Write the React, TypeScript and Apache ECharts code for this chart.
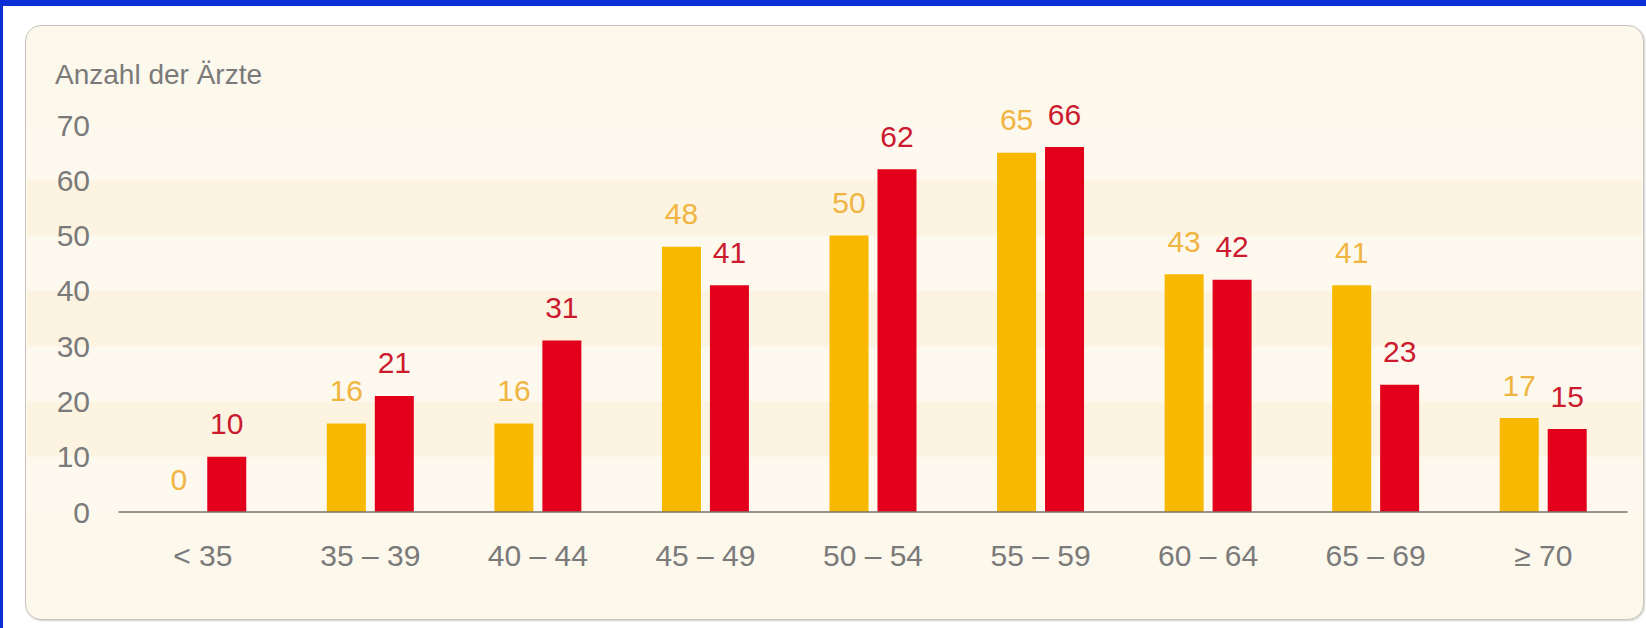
import React, { useEffect, useRef } from "react";
import * as echarts from "echarts";

const categories = ["< 35", "35 – 39", "40 – 44", "45 – 49", "50 – 54", "55 – 59", "60 – 64", "65 – 69", "≥ 70"];
const seriesYellow = [0, 16, 16, 48, 50, 65, 43, 41, 17];
const seriesRed = [10, 21, 31, 41, 62, 66, 42, 23, 15];
const yTitle = "Anzahl der Ärzte";

const FONT = '"Liberation Sans", Arial, sans-serif';

export default function App() {
  const ref = useRef<HTMLDivElement>(null);
  useEffect(() => {
    if (!ref.current) return;
    const chart = echarts.init(ref.current, null, { renderer: "svg" });
    chart.setOption({
      animation: false,
      backgroundColor: "transparent",
      textStyle: { fontFamily: FONT },
      grid: [
        { left: 119, right: 19, top: 125, bottom: 116 },
        { left: 27, right: 4, top: 125, bottom: 116 },
      ],
      graphic: [
        {
          type: "text",
          left: 55,
          top: 60,
          z: 10,
          style: { text: yTitle, font: `28px ${FONT}`, fill: "#7a7a7a" },
        },
      ],
      xAxis: [
        {
          type: "category",
          gridIndex: 0,
          data: categories,
          axisLine: { show: true, lineStyle: { color: "#77756f", width: 1.5 } },
          axisTick: { show: false },
          axisLabel: { color: "#7a7a7a", fontSize: 30, margin: 28, fontFamily: FONT },
          splitLine: { show: false },
          z: 5,
        },
        {
          type: "value",
          gridIndex: 1,
          show: false,
          min: 0,
          max: 1,
        },
      ],
      yAxis: [
        {
          type: "value",
          gridIndex: 0,
          min: 0,
          max: 70,
          interval: 10,
          axisLine: { show: false },
          axisTick: { show: false },
          axisLabel: { color: "#7a7a7a", fontSize: 30, margin: 29, fontFamily: FONT },
          splitLine: { show: false },
          splitArea: { show: false },
          z: 5,
        },
        {
          type: "value",
          gridIndex: 1,
          min: 0,
          max: 70,
          interval: 10,
          axisLine: { show: false },
          axisTick: { show: false },
          axisLabel: { show: false },
          splitLine: { show: false },
          splitArea: { show: true, areaStyle: { color: ["#fdf9ee", "#fcf3e1"] } },
          z: 0,
        },
      ],
      series: [
        {
          name: "Gruppe 1",
          type: "bar",
          xAxisIndex: 0,
          yAxisIndex: 0,
          data: seriesYellow,
          barWidth: 39,
          barGap: "23%",
          itemStyle: { color: "#f8b800" },
          label: {
            show: true,
            position: "top",
            distance: 18,
            color: "#f0b541",
            fontSize: 30,
            fontFamily: FONT,
          },
        },
        {
          name: "Gruppe 2",
          type: "bar",
          xAxisIndex: 0,
          yAxisIndex: 0,
          data: seriesRed,
          barWidth: 39,
          itemStyle: { color: "#e2001a" },
          label: {
            show: true,
            position: "top",
            distance: 18,
            color: "#cc1a2e",
            fontSize: 30,
            fontFamily: FONT,
          },
        },
        {
          name: "Hintergrund",
          type: "line",
          xAxisIndex: 1,
          yAxisIndex: 1,
          data: [],
          silent: true,
        },
      ],
    });
    return () => chart.dispose();
  }, []);

  return (
    <div
      style={{
        position: "fixed",
        left: 0,
        top: 0,
        width: 1646,
        height: 628,
        background: "#ffffff",
        overflow: "hidden",
      }}
    >
      <div style={{ position: "absolute", left: 0, top: 0, width: 1646, height: 6, background: "#0b2fd6" }} />
      <div style={{ position: "absolute", left: 0, top: 0, width: 3, height: 628, background: "#0b2fd6" }} />
      <div
        style={{
          position: "absolute",
          left: 25,
          top: 25,
          width: 1617,
          height: 593,
          background: "#fdf8ec",
          border: "1.5px solid #c9c5bd",
          borderRadius: 16,
          boxShadow: "1px 1px 2px rgba(0,0,0,0.18)",
        }}
      />
      <div ref={ref} style={{ position: "absolute", left: 0, top: 0, width: 1646, height: 628 }} />
    </div>
  );
}
